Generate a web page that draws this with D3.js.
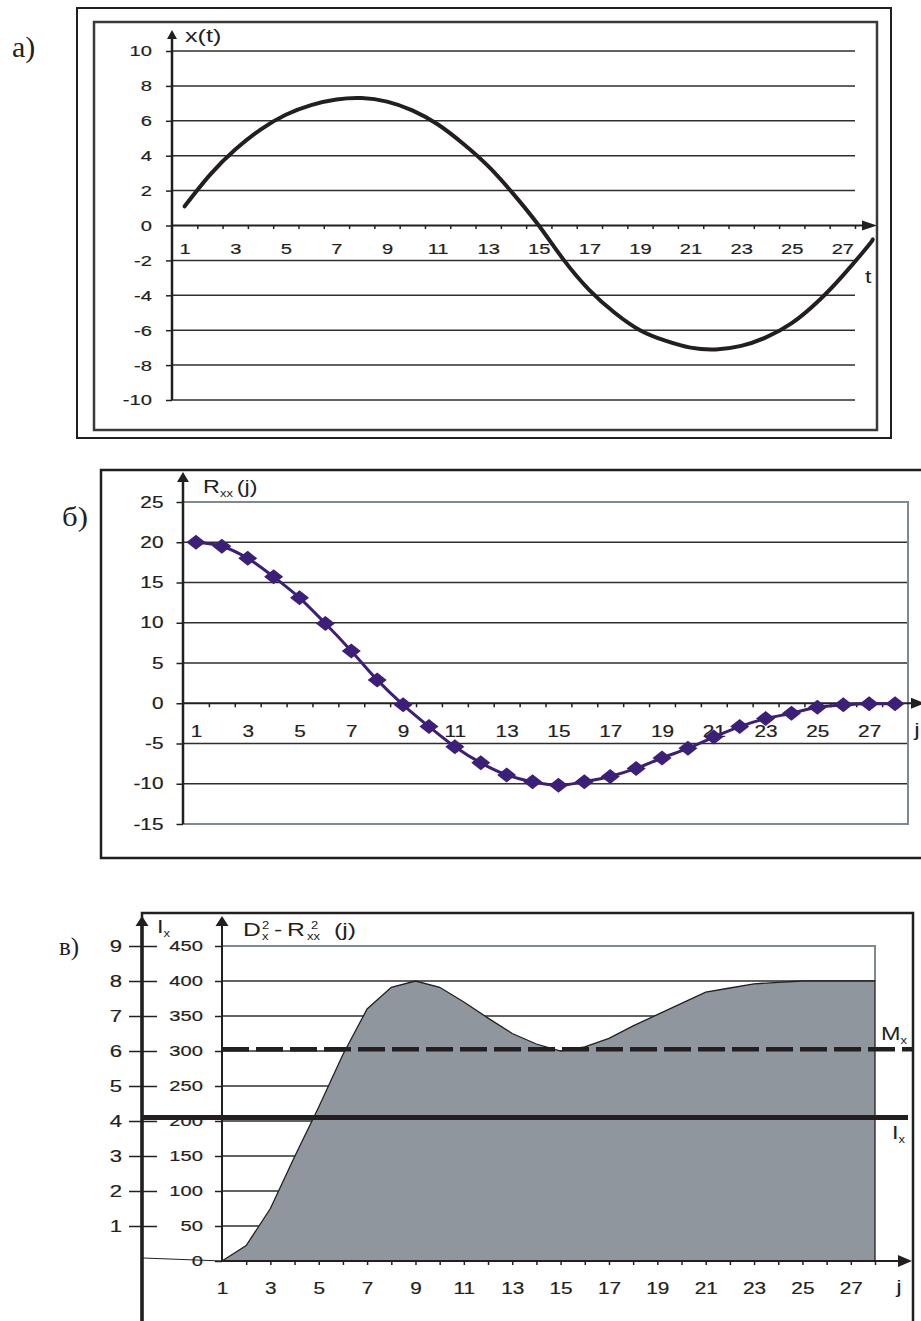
<!DOCTYPE html>
<html>
<head>
<meta charset="utf-8">
<script src="https://cdn.jsdelivr.net/npm/d3@7"></script>
<style>
  body { margin: 0; background: #fff; }
  svg text { font-family: "Liberation Sans", Arial, sans-serif; fill: #231f20; }
  .ax text { font-size: 15.5px; stroke: #231f20; stroke-width: 0.2px; }
  .ax line { stroke: #231f20; stroke-width: 1.5; }
  svg text.panel { font-family: "Liberation Serif", "Times New Roman", serif; }
</style>
</head>
<body>
<svg id="chart" width="921" height="1321"></svg>
<script>
// MARK: data

// a) x(t)
const tA       = [1, 2, 3, 4, 5, 6, 7, 8, 9, 10, 11, 12, 13, 14, 15, 16, 17, 18, 19, 20, 21, 22, 23, 24, 25, 26, 27, 28, 28.2]
const xA       = [1.1, 2.9, 4.35, 5.5, 6.35, 6.9, 7.22, 7.3, 7.1, 6.6, 5.8, 4.7, 3.4, 1.8, 0.0, -2.0, -3.7, -5.0, -6.0, -6.6, -7.0, -7.1, -6.9, -6.4, -5.6, -4.4, -2.9, -1.2, -0.8]
const yTicksA  = [-10, -8, -6, -4, -2, 0, 2, 4, 6, 8, 10]
const tLabelsA = [1, 3, 5, 7, 9, 11, 13, 15, 17, 19, 21, 23, 25, 27]

// б) Rxx(j)
const jB       = [1, 2, 3, 4, 5, 6, 7, 8, 9, 10, 11, 12, 13, 14, 15, 16, 17, 18, 19, 20, 21, 22, 23, 24, 25, 26, 27, 28]
const rB       = [20, 19.5, 18.0, 15.7, 13.1, 9.9, 6.5, 2.9, -0.2, -2.9, -5.4, -7.4, -8.9, -9.75, -10.2, -9.75, -9.1, -8.1, -6.8, -5.6, -4.2, -2.9, -1.9, -1.25, -0.5, -0.2, -0.05, -0.05]
const yTicksB  = [-15, -10, -5, 0, 5, 10, 15, 20, 25]
const jLabelsB = [1, 3, 5, 7, 9, 11, 13, 15, 17, 19, 21, 23, 25, 27]

// в) Dx^2 - Rxx^2(j), Ix, Mx
const jC       = [1, 2, 3, 4, 5, 6, 7, 8, 9, 10, 11, 12, 13, 14, 15, 16, 17, 18, 19, 20, 21, 22, 23, 24, 25, 26, 27, 28]
const dC       = [0, 22, 75, 149, 220, 295, 360, 391, 400, 391, 370, 347, 325, 310, 300, 306, 318, 336, 352, 368, 384, 390, 396, 398, 400, 400, 400, 400]
const yTicksC  = [0, 50, 100, 150, 200, 250, 300, 350, 400, 450]
const iTicksC  = [1, 2, 3, 4, 5, 6, 7, 8, 9]
const jLabelsC = [1, 3, 5, 7, 9, 11, 13, 15, 17, 19, 21, 23, 25, 27]
const IX_LEVEL = 4.1
const MX_LEVEL = 6.05

// MARK: helpers

const INK  = '#231f20'
const GRID = '#2e2e2e'
const EDGE = '#7f8993'
const STRETCH = 1.3 // the scanned text is wider than Arial

const svg = d3.select('#chart')
const plain = (d) => String(d) // hyphen-minus like the original, not U+2212

function arrowHead(g, x, y, dir, len, half) {
  const pts = dir === 'up'
    ? [[x, y], [x - half, y + len], [x + half, y + len]]
    : [[x, y], [x - len, y - half], [x - len, y + half]]
  g.append('path').attr('d', d3.line()(pts) + 'Z').attr('fill', INK)
}

function hLine(g, x1, x2, y, color, w) {
  return g.append('line')
    .attr('x1', x1).attr('x2', x2).attr('y1', y).attr('y2', y)
    .attr('stroke', color).attr('stroke-width', w)
}

function vLine(g, x, y1, y2, color, w) {
  return g.append('line')
    .attr('x1', x).attr('x2', x).attr('y1', y1).attr('y2', y2)
    .attr('stroke', color).attr('stroke-width', w)
}

function label(g, x, y, txt, size) {
  return g.append('text').attr('x', x).attr('y', y)
    .attr('font-size', size).text(txt)
}

// MARK: а) x(t)

const gA = svg.append('g')
gA.append('rect').attr('x', 77).attr('y', 8).attr('width', 814).attr('height', 430)
  .attr('fill', 'none').attr('stroke', INK).attr('stroke-width', 2)
gA.append('rect').attr('x', 94).attr('y', 22).attr('width', 783).attr('height', 408)
  .attr('fill', 'none').attr('stroke', '#3a3a3a').attr('stroke-width', 2.5)

const xScA = d3.scaleLinear().domain([0.5, 27.5]).range([172, 855])
const yScA = d3.scaleLinear().domain([-10, 10]).range([400, 51])

gA.selectAll('line.grid').data(yTicksA.filter((v) => v !== 0)).join('line')
  .attr('class', 'grid')
  .attr('x1', 172).attr('x2', 855)
  .attr('y1', (d) => yScA(d)).attr('y2', (d) => yScA(d))
  .attr('stroke', GRID).attr('stroke-width', 1.5)

gA.append('g').attr('class', 'ax').attr('transform', 'translate(172,0)')
  .call(d3.axisLeft(yScA).tickValues(yTicksA).tickFormat(plain).tickSize(6).tickPadding(14))
  .call((g) => g.select('.domain').remove())

// category boundaries on the t axis
gA.append('g').attr('class', 'ax').attr('transform', `translate(0,${yScA(0)})`)
  .call(d3.axisBottom(xScA).tickValues(d3.range(1.5, 28, 1)).tickSize(3.5).tickFormat(''))
  .call((g) => g.select('.domain').remove())
gA.append('g').attr('class', 'ax').attr('transform', `translate(0,${yScA(0)})`)
  .call(d3.axisBottom(xScA).tickValues(tLabelsA).tickSize(0).tickPadding(18))
  .call((g) => g.select('.domain').remove())

hLine(gA, 172, 864, yScA(0), INK, 2)
arrowHead(gA, 877, yScA(0), 'right', 15, 5)
vLine(gA, 172, 400, 36, INK, 2.5)
arrowHead(gA, 172, 30, 'up', 9, 5)

gA.append('path')
  .datum(tA.map((t, i) => ({ t, v: xA[i] })))
  .attr('d', d3.line().x((d) => xScA(d.t)).y((d) => yScA(d.v)).curve(d3.curveNatural))
  .attr('fill', 'none').attr('stroke', INK).attr('stroke-width', 4)
  .attr('stroke-linecap', 'round')

label(gA, 185, 42, 'x(t)', 18).attr('data-stretch', 1.4)
label(gA, 865, 283, 't', 18)
label(gA, 12, 57, 'а)', 30).attr('class', 'panel').attr('data-stretch', 1)

// MARK: б) Rxx(j)

const gB = svg.append('g')
gB.append('rect').attr('x', 101).attr('y', 470).attr('width', 840).attr('height', 388)
  .attr('fill', 'none').attr('stroke', INK).attr('stroke-width', 2.5)

const xScB = d3.scaleLinear().domain([0.5, 28.5]).range([183, 908])
const yScB = d3.scaleLinear().domain([-15, 25]).range([824, 502])

gB.selectAll('line.grid').data(yTicksB.filter((v) => v !== 0 && v !== 25 && v !== -15)).join('line')
  .attr('class', 'grid')
  .attr('x1', 183).attr('x2', 908)
  .attr('y1', (d) => yScB(d)).attr('y2', (d) => yScB(d))
  .attr('stroke', GRID).attr('stroke-width', 1.5)
hLine(gB, 183, 909, yScB(25), EDGE, 2)
hLine(gB, 183, 909, yScB(-15), EDGE, 2)
vLine(gB, 908, yScB(25), yScB(-15), EDGE, 2)

gB.append('g').attr('class', 'ax').attr('transform', 'translate(183,0)')
  .call(d3.axisLeft(yScB).tickValues(yTicksB).tickFormat(plain).tickSize(6.5).tickPadding(13))
  .call((g) => g.select('.domain').remove())
  .call((g) => g.selectAll('text').style('font-size', '16px'))

gB.append('g').attr('class', 'ax').attr('transform', `translate(0,${yScB(0)})`)
  .call(d3.axisBottom(xScB).tickValues(d3.range(1.5, 28, 1)).tickSize(4).tickFormat(''))
  .call((g) => g.select('.domain').remove())
gB.append('g').attr('class', 'ax').attr('transform', `translate(0,${yScB(0)})`)
  .call(d3.axisBottom(xScB).tickValues(jLabelsB).tickSize(0).tickPadding(22))
  .call((g) => g.select('.domain').remove())
  .call((g) => g.selectAll('text').style('font-size', '16px'))

hLine(gB, 183, 912, yScB(0), INK, 2)
arrowHead(gB, 925, yScB(0), 'right', 14, 5.5)
vLine(gB, 183, 824, 480, INK, 2.5)
arrowHead(gB, 183, 472, 'up', 10, 6)

const PURPLE = '#3b1f78'
const ptsB = jB.map((j, i) => ({ j, v: rB[i] }))
gB.append('path')
  .datum(ptsB)
  .attr('d', d3.line().x((d) => xScB(d.j)).y((d) => yScB(d.v)).curve(d3.curveMonotoneX))
  .attr('fill', 'none').attr('stroke', PURPLE).attr('stroke-width', 3)
gB.selectAll('path.mark').data(ptsB).join('path')
  .attr('class', 'mark')
  .attr('transform', (d) => `translate(${xScB(d.j)},${yScB(d.v)})`)
  .attr('d', 'M-9.5,0L0,-7.5L9.5,0L0,7.5Z')
  .attr('fill', PURPLE)

const rLab = gB.append('text').attr('x', 203).attr('y', 493).attr('font-size', 18)
  .attr('data-stretch', 1.3)
rLab.append('tspan').text('R')
rLab.append('tspan').attr('font-size', 10).attr('dy', 4).text('xx')
rLab.append('tspan').attr('dy', -4).attr('dx', 3).text('(j)')
label(gB, 914, 736, 'j', 19)
label(gB, 62, 526, 'б)', 28).attr('class', 'panel').attr('data-stretch', 1.1)

// MARK: в) Dx^2 - Rxx^2 (j)

const gC = svg.append('g')
gC.append('rect').attr('x', 142).attr('y', 913).attr('width', 771).attr('height', 440)
  .attr('fill', 'none').attr('stroke', INK).attr('stroke-width', 2.5)

const xScC = d3.scaleLinear().domain([1, 28]).range([222, 875])
const yScC = d3.scaleLinear().domain([0, 450]).range([1261, 946])
const iScC = d3.scaleLinear().domain([0, 9]).range([1261, 946])

gC.selectAll('line.grid').data(yTicksC.filter((v) => v !== 0 && v !== 450)).join('line')
  .attr('class', 'grid')
  .attr('x1', 222).attr('x2', 875)
  .attr('y1', (d) => yScC(d)).attr('y2', (d) => yScC(d))
  .attr('stroke', GRID).attr('stroke-width', 1.5)
hLine(gC, 222, 876, yScC(450), EDGE, 2)
vLine(gC, 875, yScC(450), yScC(400), EDGE, 2)

gC.append('path')
  .datum(jC.map((j, i) => ({ j, v: dC[i] })))
  .attr('d', d3.area().x((d) => xScC(d.j)).y0(yScC(0)).y1((d) => yScC(d.v)))
  .attr('fill', '#90969d').attr('stroke', INK).attr('stroke-width', 1.3)

// left (Ix) axis
gC.append('g').attr('class', 'ax').attr('transform', 'translate(157,0)')
  .call(d3.axisLeft(iScC).tickValues(iTicksC).tickSize(28).tickPadding(7))
  .call((g) => g.select('.domain').remove())
  .call((g) => g.selectAll('text').style('font-size', '17px'))
vLine(gC, 142, 1330, 925, INK, 3.5)
arrowHead(gC, 142, 916, 'up', 10, 6.5)
gC.append('line').attr('x1', 143).attr('y1', 1258).attr('x2', 222).attr('y2', 1261)
  .attr('stroke', INK).attr('stroke-width', 1)

// right (D) axis
gC.append('g').attr('class', 'ax').attr('transform', 'translate(222,0)')
  .call(d3.axisLeft(yScC).tickValues(yTicksC).tickSize(7).tickPadding(12))
  .call((g) => g.select('.domain').remove())
vLine(gC, 222, 1261, 925, INK, 2)
arrowHead(gC, 222, 916, 'up', 10, 6.5)

// j axis
gC.append('g').attr('class', 'ax').attr('transform', `translate(0,${yScC(0)})`)
  .call(d3.axisBottom(xScC).tickValues(jC.slice(1)).tickSize(4).tickFormat(''))
  .call((g) => g.select('.domain').remove())
gC.append('g').attr('class', 'ax').attr('transform', `translate(0,${yScC(0)})`)
  .call(d3.axisBottom(xScC).tickValues(jLabelsC).tickSize(0).tickPadding(22))
  .call((g) => g.select('.domain').remove())
  .call((g) => g.selectAll('text').style('font-size', '16px'))
hLine(gC, 222, 900, yScC(0), INK, 2)
arrowHead(gC, 912, yScC(0), 'right', 14, 6)

// Mx (dashed) and Ix (solid) levels
hLine(gC, 222, 912, iScC(MX_LEVEL), INK, 4.5).attr('stroke-dasharray', '27 7')
hLine(gC, 142, 908, iScC(IX_LEVEL), INK, 5)

const mLab = gC.append('text').attr('x', 881).attr('y', 1040).attr('font-size', 18)
mLab.append('tspan').text('M')
mLab.append('tspan').attr('font-size', 10).attr('dy', 4).text('x')
const iLab = gC.append('text').attr('x', 892).attr('y', 1139).attr('font-size', 18)
iLab.append('tspan').text('I')
iLab.append('tspan').attr('font-size', 10).attr('dy', 4).text('x')
const iTop = gC.append('text').attr('x', 157).attr('y', 933).attr('font-size', 18)
iTop.append('tspan').text('I')
iTop.append('tspan').attr('font-size', 10).attr('dy', 4).text('x')

label(gC, 243, 936, 'D', 19)
label(gC, 262, 929, '2', 10)
label(gC, 262, 940, 'x', 10)
label(gC, 274, 936, '-', 19)
label(gC, 287, 936, 'R', 19)
label(gC, 311, 929, '2', 10)
label(gC, 307, 940, 'xx', 10)
label(gC, 334, 936, '(j)', 19)
label(gC, 896, 1293, 'j', 19)
label(gC, 59, 955, 'в)', 25).attr('class', 'panel').attr('data-stretch', 1)

// MARK: widen every text around its anchor point, like the scanned original

svg.selectAll('text').each(function () {
  const k = this.dataset.stretch ? +this.dataset.stretch : STRETCH
  if (k === 1) return
  const b = this.getBBox()
  const anchor = getComputedStyle(this).textAnchor
  const ax = anchor === 'end' ? b.x + b.width : anchor === 'middle' ? b.x + b.width / 2 : b.x
  d3.select(this).attr('transform', `translate(${ax},0) scale(${k},1) translate(${-ax},0)`)
})
</script>
</body>
</html>
